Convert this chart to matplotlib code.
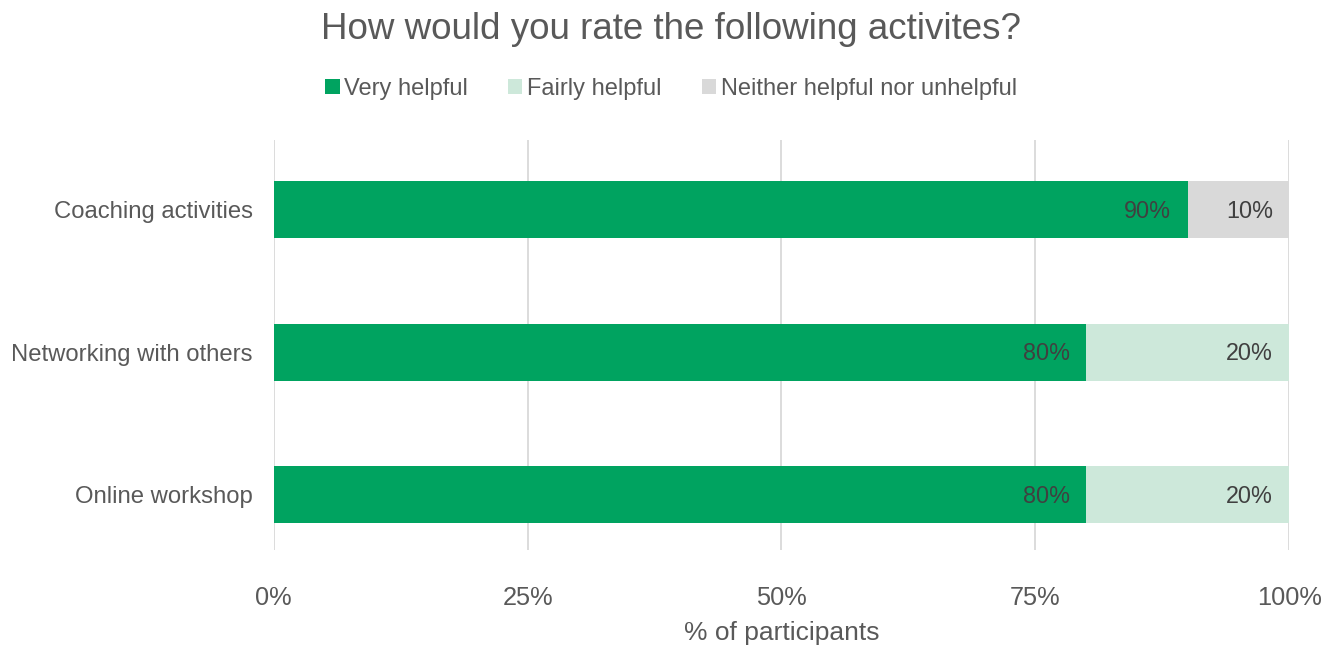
import numpy as np
import matplotlib.pyplot as plt
from matplotlib.ticker import PercentFormatter

plt.rcParams["font.family"] = ["Liberation Sans", "DejaVu Sans"]

activities = ["Coaching activities", "Networking with others", "Online workshop"]
series = ["Very helpful", "Fairly helpful", "Neither helpful nor unhelpful"]
very_helpful = [90, 80, 80]
fairly_helpful = [0, 20, 20]
neither = [10, 0, 0]
colors = ["#00A360", "#CDE8DA", "#D9D9D9"]

fig = plt.figure(figsize=(13.29, 6.48), dpi=100)
ax = fig.add_axes([0.206, 0.151, 0.764, 0.633])

y = np.arange(len(activities))
left = np.zeros(len(activities))
for name, vals, c in zip(series, [very_helpful, fairly_helpful, neither], colors):
    vals = np.array(vals, dtype=float)
    ax.barh(y, vals, left=left, height=0.4, color=c, label=name, zorder=2)
    for yi, l, v in zip(y, left, vals):
        if v > 0:
            ax.text(l + v - 1.6, yi + 0.01, f"{v:.0f}%", ha="right", va="center",
                    fontsize=16.8, color="#404040", zorder=3)
    left += vals

ax.set_xlim(0, 100)
ax.set_ylim(2.39, -0.49)
ax.set_xticks([0, 25, 50, 75, 100])
ax.xaxis.set_major_formatter(PercentFormatter(decimals=0))
ax.set_yticks(y)
ax.set_yticklabels(activities)
ax.grid(axis="x", color="#D9D9D9", linewidth=1.3, zorder=0)
for s in ax.spines.values():
    s.set_visible(False)
ax.tick_params(length=0, labelcolor="#595959")
ax.tick_params(axis="x", pad=26, labelsize=18.3)
ax.tick_params(axis="y", pad=15, labelsize=17.2)
ax.set_xlabel("% of participants", fontsize=19, color="#595959", labelpad=8)

fig.suptitle("How would you rate the following activites?", fontsize=26.5,
             color="#595959", x=0.505, y=0.982)
fig.legend(loc="upper center", bbox_to_anchor=(0.505, 0.912), ncol=3, frameon=False,
           fontsize=17, labelcolor="#595959", handlelength=0.6, handleheight=0.6,
           handletextpad=0.2, columnspacing=1.7)

fig.savefig("out.png", dpi=100)
